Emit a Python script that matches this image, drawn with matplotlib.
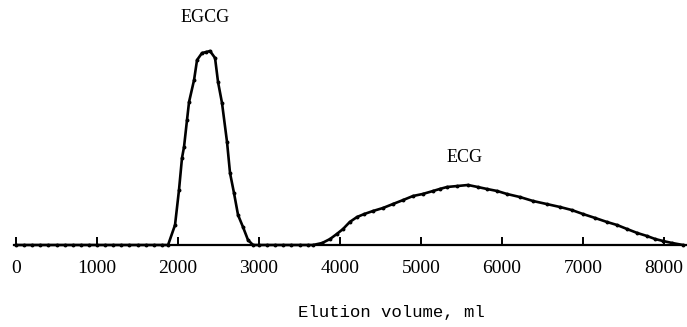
import matplotlib
matplotlib.use("Agg")
import matplotlib.pyplot as plt

# Elution profile (relative absorbance units)
volume_ml = [0, 100, 200, 300, 400, 500, 600, 700, 800, 900, 1000, 1100, 1200,
             1300, 1400, 1500, 1600, 1700, 1800, 1877,
             1963, 2012, 2049, 2074, 2111, 2136, 2198, 2235, 2296, 2350, 2395,
             2457, 2494, 2543, 2605, 2642, 2691, 2741, 2802, 2864, 2926,
             3000, 3100, 3200, 3300, 3400, 3500, 3600, 3667,
             3780, 3877, 3960, 4037, 4120, 4210, 4300, 4407, 4530, 4654, 4780,
             4901, 5020, 5148, 5230, 5321, 5450, 5580, 5700, 5815, 5940, 6062,
             6220, 6383, 6550, 6716, 6860, 6999, 7150, 7296, 7420, 7543, 7670,
             7790, 7890, 7988, 8100, 8235]
absorbance = [0, 0, 0, 0, 0, 0, 0, 0, 0, 0, 0, 0, 0,
              0, 0, 0, 0, 0, 0, 0,
              0.20, 0.55, 0.87, 0.98, 1.25, 1.43, 1.65, 1.85, 1.92, 1.93, 1.94,
              1.87, 1.63, 1.42, 1.03, 0.72, 0.52, 0.30, 0.18, 0.05, 0,
              0, 0, 0, 0, 0, 0, 0, 0,
              0.02, 0.06, 0.11, 0.16, 0.23, 0.28, 0.31, 0.34, 0.37, 0.41, 0.45,
              0.49, 0.51, 0.54, 0.56, 0.58, 0.59, 0.60, 0.58, 0.56, 0.54, 0.51,
              0.48, 0.44, 0.41, 0.38, 0.35, 0.31, 0.27, 0.23, 0.20, 0.16, 0.12,
              0.09, 0.06, 0.04, 0.02, 0]
x_ticks = [0, 1000, 2000, 3000, 4000, 5000, 6000, 7000, 8000]
peak_labels = ["EGCG", "ECG"]
peak_label_pos = [(2333, 2.27), (5543, 0.87)]

fig = plt.figure(figsize=(6.87, 3.27), dpi=100)
ax = fig.add_axes([14 / 687, 82 / 327, 672.7 / 687, 215 / 327])
ax.plot(volume_ml, absorbance, color="black", lw=1.9, marker="o",
        markersize=1.8, clip_on=False)

ax.set_xlim(-25, 8280)
ax.set_ylim(0, 2.15)
for s in ["top", "right", "left"]:
    ax.spines[s].set_visible(False)
ax.spines["bottom"].set_linewidth(1.6)
ax.set_yticks([])
ax.set_xticks(x_ticks)
ax.set_xticklabels([str(t) for t in x_ticks], family="Liberation Serif",
                   fontsize=14)
ax.tick_params(axis="x", direction="in", length=6, width=1.4, pad=11)

for lab, (x, y) in zip(peak_labels, peak_label_pos):
    ax.text(x, y, lab, ha="center", va="center", family="Liberation Serif",
            fontsize=13, clip_on=False)

fig.text(391 / 687, 1 - 313 / 327, "Elution volume, ml", ha="center",
         va="center", family="Liberation Mono", fontsize=12.5)

fig.savefig("out.png", dpi=100)
